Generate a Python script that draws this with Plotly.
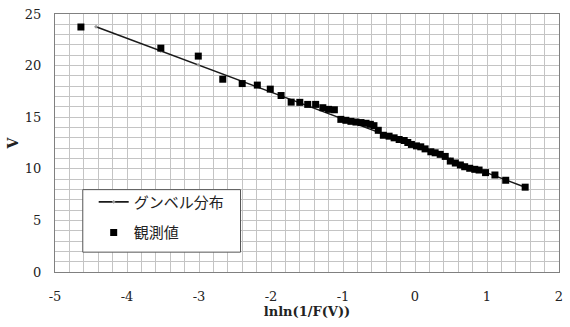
import plotly.graph_objects as go

# Observed values (plotting position lnln(1/F), V)
obs_x = [-4.64, -3.53, -3.01, -2.67, -2.40, -2.19, -2.01, -1.86, -1.72, -1.60,
         -1.49, -1.38, -1.28, -1.20, -1.12, -1.03, -0.96, -0.89, -0.82, -0.75,
         -0.68, -0.62, -0.57, -0.51, -0.44, -0.36, -0.29, -0.22, -0.15, -0.10,
         -0.05, 0.02, 0.08, 0.14, 0.22, 0.28, 0.35, 0.42, 0.49, 0.56,
         0.63, 0.69, 0.76, 0.83, 0.89, 0.98, 1.11, 1.26, 1.53]
obs_v = [23.74, 21.69, 20.92, 18.68, 18.26, 18.11, 17.72, 17.10, 16.46, 16.44,
         16.24, 16.24, 15.92, 15.76, 15.72, 14.79, 14.70, 14.60, 14.53, 14.48,
         14.41, 14.31, 14.18, 13.73, 13.25, 13.16, 13.00, 12.84, 12.74, 12.55,
         12.36, 12.22, 12.13, 11.93, 11.65, 11.55, 11.40, 11.20, 10.75, 10.56,
         10.37, 10.20, 10.05, 9.95, 9.88, 9.63, 9.40, 8.89, 8.22]

# Gumbel distribution line
gum_x = [-4.43, -3.53, -3.01, -2.40, -1.60, -1.03, -0.51, 0.02, 0.49, 1.11, 1.53]
gum_v = [23.77, 21.42, 20.07, 18.47, 16.39, 14.90, 13.54, 12.16, 10.93, 9.31, 8.22]

x_ticks = [-5, -4, -3, -2, -1, 0, 1, 2]
x_tick_text = ["-5", "-4", "-3", "-2", "-1", "0", "1", "2"]
y_ticks = [0, 5, 10, 15, 20, 25]

serif = "DejaVu Serif"
jp = "Noto Sans CJK JP"

fig = go.Figure()
fig.add_trace(go.Scatter(
    x=gum_x, y=gum_v, mode="lines+markers", name="グンベル分布",
    line=dict(color="#1a1a1a", width=1.6),
    marker=dict(color="#999999", size=3, symbol="diamond"),
    legendgroup="a",
))
fig.add_trace(go.Scatter(
    x=obs_x, y=obs_v, mode="markers", name="観測値",
    marker=dict(color="black", size=7, symbol="square"),
    legendgroup="b",
))

grid_c = "#c4c4c4"
fig.update_xaxes(
    range=[-5, 2], tickvals=x_ticks, ticktext=x_tick_text,
    showgrid=True, gridcolor=grid_c, gridwidth=1,
    minor=dict(dtick=0.2, showgrid=True, gridcolor=grid_c, gridwidth=1),
    showline=True, linecolor="#808080", linewidth=1, mirror=True,
    zeroline=False, ticks="", ticklabelstandoff=12,
    tickfont=dict(family=serif, size=13, color="#222"),
    title=dict(text="<b>lnln(1/F(V))</b>", font=dict(family=serif, size=13, color="#222"), standoff=4),
)
fig.update_yaxes(
    range=[0, 25], tickvals=y_ticks,
    showgrid=True, gridcolor=grid_c, gridwidth=1,
    minor=dict(dtick=1, showgrid=True, gridcolor=grid_c, gridwidth=1),
    showline=True, linecolor="#808080", linewidth=1, mirror=True,
    zeroline=False, ticks="", ticklabelstandoff=10,
    tickfont=dict(family=serif, size=13, color="#222"),
    title=dict(text="<b>V</b>", font=dict(family=serif, size=14, color="#222"), standoff=2),
)

# legend box
fig.add_shape(type="rect", xref="paper", yref="paper",
              x0=(83 - 55) / 508, x1=(242 - 55) / 508,
              y0=(272 - 252) / 260, y1=(272 - 189) / 260,
              line=dict(color="#555555", width=1), fillcolor="white", layer="above")

fig.update_layout(
    width=570, height=327,
    margin=dict(l=55, r=7, t=12, b=55),
    paper_bgcolor="white", plot_bgcolor="white",
    showlegend=True,
    legend=dict(x=(94 - 55) / 508, y=(272 - 185) / 260, xanchor="left", yanchor="top",
                bgcolor="rgba(0,0,0,0)", borderwidth=0,
                font=dict(family=jp, size=15, color="#222"),
                tracegroupgap=8),
)

fig.write_html("out.html")
